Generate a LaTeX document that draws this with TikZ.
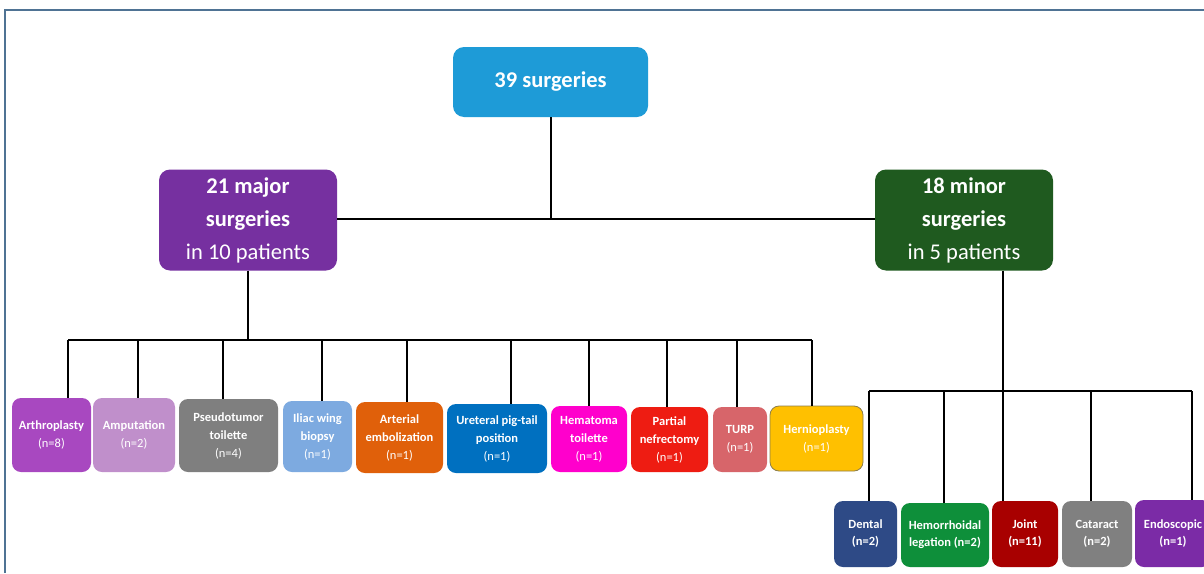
\documentclass[tikz,border=0pt]{standalone}
\usepackage{fontspec}
\setmainfont{Carlito}
\begin{document}
\begin{tikzpicture}[x=1pt,y=-1pt,
  box/.style={draw=none, rounded corners=9pt, text=white, align=center, inner sep=0pt},
  big/.style={box, rounded corners=11pt, font=\fontsize{22.5}{33}\selectfont},
  kid/.style={box, font=\fontsize{12.5}{18}\selectfont},
  mkid/.style={box, font=\bfseries\fontsize{12.5}{17}\selectfont},
  conn/.style={draw=black, line width=2pt},
]
\definecolor{ctop}{HTML}{1E9BD7}
\definecolor{cmajor}{HTML}{7630A0}
\definecolor{cminor}{HTML}{1F5A1F}
\definecolor{carth}{HTML}{A848C0}
\definecolor{camp}{HTML}{C08FCB}
\definecolor{cpseudo}{HTML}{7F7F7F}
\definecolor{ciliac}{HTML}{7DAAE0}
\definecolor{carter}{HTML}{E0600A}
\definecolor{curet}{HTML}{0070C0}
\definecolor{chema}{HTML}{FF00CC}
\definecolor{cpart}{HTML}{EE1C12}
\definecolor{cturp}{HTML}{D7656A}
\definecolor{cherni}{HTML}{FFC000}
\definecolor{cherniB}{HTML}{8B7D4B}
\definecolor{cdental}{HTML}{2E4A86}
\definecolor{chemo}{HTML}{0E8F3A}
\definecolor{cjoint}{HTML}{A80000}
\definecolor{ccat}{HTML}{808080}
\definecolor{cendo}{HTML}{7B2BA6}
\definecolor{cframe}{HTML}{4F7394}

\useasboundingbox (0,0) rectangle (1204,573);
\clip (0,0) rectangle (1204,573);
\fill[white] (0,0) rectangle (1204,573);
\draw[draw=cframe, line width=1.4pt] (5,573) -- (5,10) -- (1204,10);

% main boxes
\node[big, fill=ctop, minimum width=195pt, minimum height=70pt] (top) at (550.5,82) {\textbf{39 surgeries}};
\node[big, fill=cmajor, minimum width=178pt, minimum height=101pt] (major) at (248,220) {\textbf{21 major}\\\textbf{surgeries}\\in 10 patients};
\node[big, fill=cminor, minimum width=178pt, minimum height=101pt] (minor) at (964,220) {\textbf{18 minor}\\\textbf{surgeries}\\in 5 patients};

% major children
\node[kid, fill=carth, minimum width=79pt, minimum height=74pt] (arth) at (51.5,435) {\textbf{Arthroplasty}\\(n=8)};
\node[kid, fill=camp, minimum width=82pt, minimum height=74pt] (amp) at (134,435) {\textbf{Amputation}\\(n=2)};
\node[kid, fill=cpseudo, minimum width=99pt, minimum height=73pt] (pseudo) at (228.5,435.5) {\textbf{Pseudotumor}\\\textbf{toilette}\\(n=4)};
\node[kid, fill=ciliac, minimum width=69pt, minimum height=71pt] (iliac) at (317.5,436.5) {\textbf{Iliac wing}\\\textbf{biopsy}\\(n=1)};
\node[kid, fill=carter, minimum width=87pt, minimum height=71pt] (arter) at (399.5,437.5) {\textbf{Arterial}\\\textbf{embolization}\\(n=1)};
\node[kid, fill=curet, minimum width=100pt, minimum height=69pt] (uret) at (497,438.5) {\textbf{Ureteral pig-tail}\\\textbf{position}\\(n=1)};
\node[kid, fill=chema, minimum width=76pt, minimum height=66pt] (hema) at (589,439) {\textbf{Hematoma}\\\textbf{toilette}\\(n=1)};
\node[kid, fill=cpart, minimum width=77pt, minimum height=65pt] (part) at (669.5,439.5) {\textbf{Partial}\\\textbf{nefrectomy}\\(n=1)};
\node[kid, fill=cturp, minimum width=54pt, minimum height=65pt] (turp) at (740,439.5) {\textbf{TURP}\\(n=1)};
\node[kid, fill=cherni, draw=cherniB, line width=0.8pt, minimum width=93pt, minimum height=65pt] (herni) at (816.5,438.5) {\textbf{Hernioplasty}\\(n=1)};

% minor children
\node[mkid, fill=cdental, minimum width=63pt, minimum height=66pt] (dental) at (865.5,534) {Dental\\(n=2)};
\node[mkid, fill=chemo, minimum width=88pt, minimum height=64pt] (hemo) at (945,535) {Hemorrhoidal\\legation (n=2)};
\node[mkid, fill=cjoint, minimum width=66pt, minimum height=66pt] (joint) at (1025,534) {Joint\\(n=11)};
\node[mkid, fill=ccat, minimum width=70pt, minimum height=66pt] (cat) at (1097,534) {Cataract\\(n=2)};
\node[mkid, fill=cendo, minimum width=76pt, minimum height=67pt] (endo) at (1173,533.5) {Endoscopic\\(n=1)};

% bus coordinates
\coordinate (mj) at (248,219);
\coordinate (busL) at (68,340);
\coordinate (busR) at (812,340);
\coordinate (mv) at (1003,271);
\coordinate (mbL) at (869,391);
\coordinate (mbR) at (1192,391);

% connectors top level
\draw[conn] (top.south) -- (top.south |- mj);
\draw[conn] (major.east |- mj) -- (minor.west |- mj);

% major bus
\draw[conn] (major.south) -- (major.south |- busL);
\draw[conn] (busL) -- (busR);
\foreach \n/\x in {arth/68, amp/138, pseudo/223, iliac/322, arter/407, uret/511, hema/589, part/667, turp/737, herni/812}{
  \draw[conn] (\x,340) -- (\x,0 |- \n.north);
}

% minor bus
\draw[conn] (minor.south -| mv) -- (mv |- joint.north);
\draw[conn] (mbL) -- (mbR);
\foreach \n/\x in {dental/869, hemo/944, cat/1091, endo/1192}{
  \draw[conn] (\x,391) -- (\x,0 |- \n.north);
}
\end{tikzpicture}
\end{document}
